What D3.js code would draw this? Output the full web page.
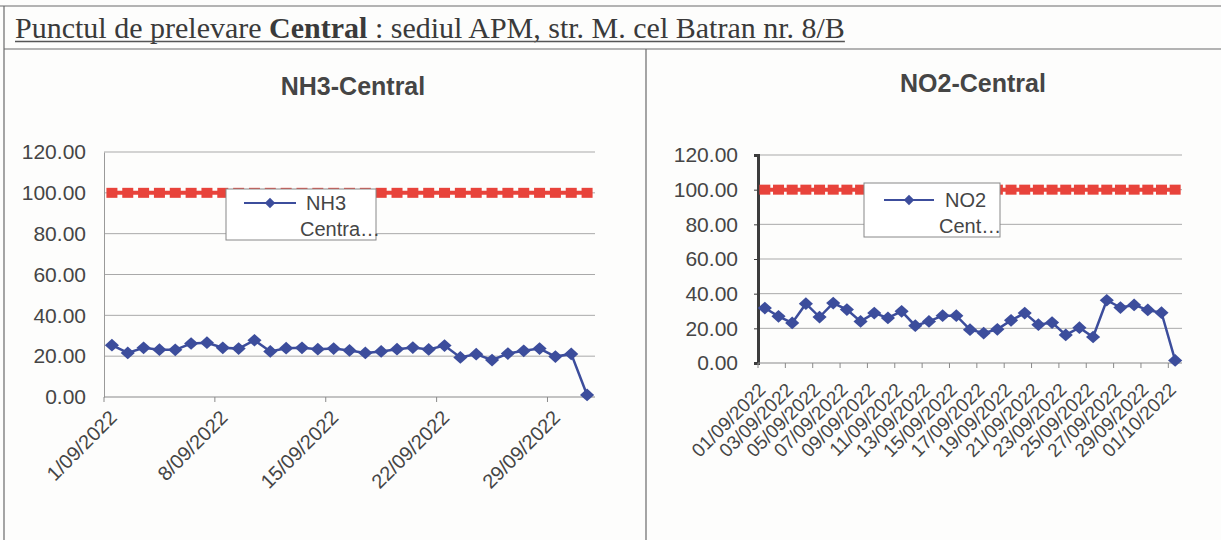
<!DOCTYPE html>
<html>
<head>
<meta charset="utf-8">
<script src="https://cdn.jsdelivr.net/npm/d3@7"></script>
<style>
  html, body { margin: 0; padding: 0; background: #fdfdfc; }
  svg { display: block; }
  text { font-family: "Liberation Sans", Arial, sans-serif; }
</style>
</head>
<body>
<svg id="chart" width="1221" height="540"></svg>
<script>
// ---------------- data ----------------
const dates = ["01/09/2022","02/09/2022","03/09/2022","04/09/2022","05/09/2022","06/09/2022","07/09/2022",
  "08/09/2022","09/09/2022","10/09/2022","11/09/2022","12/09/2022","13/09/2022","14/09/2022","15/09/2022",
  "16/09/2022","17/09/2022","18/09/2022","19/09/2022","20/09/2022","21/09/2022","22/09/2022","23/09/2022",
  "24/09/2022","25/09/2022","26/09/2022","27/09/2022","28/09/2022","29/09/2022","30/09/2022","01/10/2022"];
const nh3Values = [25.4,21.6,24.1,23.2,23.1,26.2,26.6,24.1,23.7,27.8,22.3,23.9,24.1,23.4,23.7,22.8,
  21.6,22.3,23.4,24.2,23.3,25.2,19.4,21.0,18.1,21.3,22.6,23.7,19.8,21.1,1.0];
const no2Values = [31.7,26.9,23.1,34.2,26.5,34.6,30.8,24.0,28.8,26.0,29.8,21.5,24.0,27.3,27.3,19.2,
  17.3,19.4,24.6,28.8,22.1,23.3,16.2,20.4,15.0,36.2,32.0,33.5,30.6,29.0,1.5];
const limitValues = [100,100,100,100,100,100,100,100,100,100,100,100,100,100,100,100,
  100,100,100,100,100,100,100,100,100,100,100,100,100,100,100];
const yTicks = [0,20,40,60,80,100,120];
const nh3TickLabels = ["1/09/2022","8/09/2022","15/09/2022","22/09/2022","29/09/2022"];
const nh3TickIdx = [0,7,14,21,28];
const pageTitle = ["Punctul de prelevare ", "Central", " : sediul APM, str. M. cel Batran nr. 8/B"];

// ---------------- drawing ----------------
const svg = d3.select("#chart");
const ink = "#454545", gridC = "#a9a9a9", blue = "#3c4d9c", red = "#e8433b";

// frame
const frame = svg.append("g").attr("stroke", "#6a6a6a").attr("stroke-width", 1.2);
frame.append("line").attr("x1", 0).attr("x2", 1221).attr("y1", 6).attr("y2", 6);
frame.append("line").attr("x1", 4).attr("x2", 1221).attr("y1", 49).attr("y2", 49);
frame.append("line").attr("x1", 4).attr("x2", 4).attr("y1", 6).attr("y2", 540);
frame.append("line").attr("x1", 646).attr("x2", 646).attr("y1", 49).attr("y2", 540);

// page title
const tt = svg.append("text").attr("x", 15).attr("y", 38)
  .style("font-family", '"Liberation Serif", "Times New Roman", serif')
  .style("font-size", "30px").attr("fill", "#3a3a3a");
pageTitle.forEach((s, i) => tt.append("tspan").text(s).style("font-weight", i === 1 ? "bold" : "normal"));
const tw = tt.node().getComputedTextLength();
svg.append("line").attr("x1", 15).attr("x2", 15 + tw).attr("y1", 41.5).attr("y2", 41.5)
  .attr("stroke", "#555").attr("stroke-width", 1.3);

const diamond = d3.symbol().type(d3.symbolSquare).size(100);
const legDiamond = d3.symbol().type(d3.symbolSquare).size(55);

function drawPanel(cfg) {
  const g = svg.append("g");
  const x = d3.scaleBand().domain(dates).range([cfg.left, cfg.right]);
  const y = d3.scaleLinear().domain([0, 120]).range([cfg.bottom, cfg.top]);
  const cx = d => x(d) + x.bandwidth() / 2;

  // title
  g.append("text").attr("x", cfg.titleX).attr("y", cfg.titleY).attr("text-anchor", "middle")
    .style("font-size", "25px").style("font-weight", "bold").attr("fill", ink).text(cfg.title);

  // grid
  g.append("g").selectAll("line").data(yTicks.filter(v => v > 0)).join("line")
    .attr("x1", cfg.left).attr("x2", cfg.right).attr("y1", d => y(d)).attr("y2", d => y(d))
    .attr("stroke", gridC).attr("stroke-width", 1);

  // y axis
  const ya = g.append("g").attr("transform", `translate(${cfg.left},0)`)
    .call(d3.axisLeft(y).tickValues(yTicks).tickFormat(d3.format(".2f")).tickSize(cfg.yTick).tickPadding(cfg.yPad));
  ya.select(".domain").attr("stroke", cfg.yAxisColor).attr("stroke-width", cfg.yAxisW);
  ya.selectAll(".tick line").attr("stroke", cfg.yAxisColor);
  ya.selectAll(".tick text").style("font-size", "21px").attr("fill", ink)
    .style("font-family", '"Liberation Sans", Arial, sans-serif');

  // x axis
  g.append("line").attr("x1", cfg.left).attr("x2", cfg.right).attr("y1", y(0)).attr("y2", y(0))
    .attr("stroke", "#8a8a8a").attr("stroke-width", 1.2);
  g.append("g").selectAll("line").data(cfg.tickIdx).join("line")
    .attr("x1", i => x(dates[i])).attr("x2", i => x(dates[i]))
    .attr("y1", y(0)).attr("y2", y(0) + 5).attr("stroke", "#8a8a8a");
  g.append("g").selectAll("text").data(cfg.labelIdx).join("text")
    .attr("transform", (i, k) => `translate(${cfg.labelX(x, i)},${y(0) + cfg.labelDy}) rotate(-45)`)
    .attr("text-anchor", "end").style("font-size", cfg.labelSize).attr("fill", ink)
    .text((i, k) => cfg.labelText(i, k));

  // limit series
  const line = d3.line().x((v, i) => cx(dates[i])).y(v => y(v));
  g.append("path").datum(limitValues).attr("d", line).attr("fill", "none")
    .attr("stroke", red).attr("stroke-width", 4);
  g.append("g").selectAll("rect").data(limitValues).join("rect")
    .attr("x", (v, i) => cx(dates[i]) - 5.5).attr("y", v => y(v) - 5)
    .attr("width", 11).attr("height", 10).attr("fill", red);

  // data series
  g.append("path").datum(cfg.values).attr("d", line).attr("fill", "none")
    .attr("stroke", blue).attr("stroke-width", 2.5);
  g.append("g").selectAll("path").data(cfg.values).join("path")
    .attr("d", diamond).attr("fill", blue)
    .attr("transform", (v, i) => `translate(${cx(dates[i])},${y(v)}) scale(1,0.9) rotate(45)`);

  // legend
  const L = cfg.legend;
  g.append("rect").attr("x", L.x).attr("y", L.y).attr("width", L.w).attr("height", L.h)
    .attr("fill", "#fff").attr("stroke", "#888").attr("stroke-width", 1);
  g.append("line").attr("x1", L.lx1).attr("x2", L.lx2).attr("y1", L.ly).attr("y2", L.ly)
    .attr("stroke", blue).attr("stroke-width", 2);
  g.append("path").attr("d", legDiamond).attr("fill", blue)
    .attr("transform", `translate(${(L.lx1 + L.lx2) / 2},${L.ly}) rotate(45)`);
  g.append("text").attr("x", L.t1x).attr("y", L.ly + 7).style("font-size", "20px").attr("fill", ink).text(L.t1);
  g.append("text").attr("x", L.t2x).attr("y", L.ly + 33).style("font-size", "20px").attr("fill", ink).text(L.t2);
}

drawPanel({
  title: "NH3-Central", titleX: 353, titleY: 95,
  left: 104, right: 595, top: 152, bottom: 397,
  yTick: 0, yPad: 18, yAxisColor: "#9a9a9a", yAxisW: 1,
  values: nh3Values,
  tickIdx: nh3TickIdx, labelIdx: nh3TickIdx,
  labelX: (x, i) => x(dates[i]) + 14, labelDy: 22, labelSize: "20px",
  labelText: (i, k) => nh3TickLabels[k],
  legend: { x: 226, y: 189, w: 150, h: 51, lx1: 244, lx2: 296, ly: 203, t1: "NH3", t1x: 306, t2: "Centra…", t2x: 300 }
});

const no2Ticks = dates.map((d, i) => i).filter(i => i % 2 === 0);
drawPanel({
  title: "NO2-Central", titleX: 973, titleY: 92,
  left: 758, right: 1182, top: 155, bottom: 363,
  yTick: 4, yPad: 16, yAxisColor: "#3c3c3c", yAxisW: 3,
  values: no2Values,
  tickIdx: no2Ticks, labelIdx: no2Ticks,
  labelX: (x, i) => x(dates[i]) + x.bandwidth() / 2 + 2, labelDy: 28, labelSize: "19px",
  labelText: (i) => dates[i],
  legend: { x: 864, y: 183, w: 136, h: 54, lx1: 884, lx2: 934, ly: 200, t1: "NO2", t1x: 945, t2: "Cent…", t2x: 939 }
});
</script>
</body>
</html>
